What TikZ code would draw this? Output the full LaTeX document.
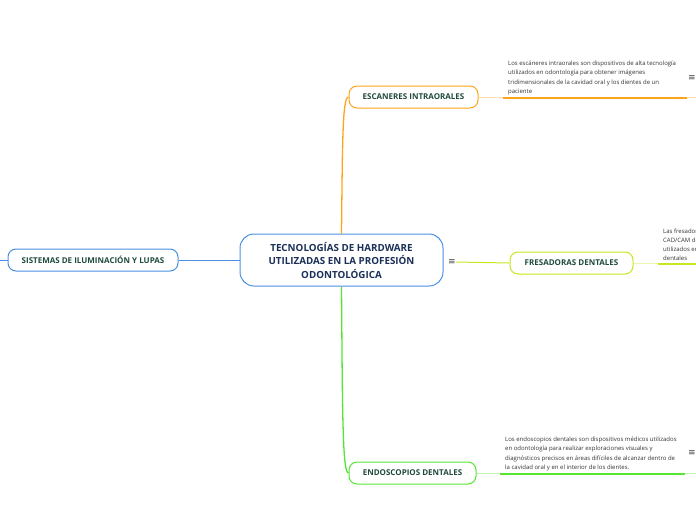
\documentclass[tikz,border=0pt]{standalone}
\usepackage{fontspec}
\setmainfont{Open Sans}
\newfontfamily\iconfont{DejaVu Sans}
\usetikzlibrary{positioning}
\definecolor{mapblue}{HTML}{4A90E2}
\definecolor{maporange}{HTML}{FFA31A}
\definecolor{maplime}{HTML}{C8E61E}
\definecolor{mapgreen}{HTML}{55E633}
\definecolor{labelgreen}{HTML}{1E4B3A}
\definecolor{centralblue}{HTML}{1B3058}
\definecolor{notegray}{HTML}{333333}

\begin{document}
\begin{tikzpicture}[x=1pt,y=-1pt,
  topic/.style={draw,fill=white,rounded corners=8pt,line width=1pt,minimum height=22pt,inner sep=0pt,font=\bfseries\fontsize{8}{9}\selectfont,text=labelgreen},
  central/.style={draw=mapblue,fill=white,rounded corners=14pt,line width=1pt,minimum width=203pt,minimum height=52pt,inner sep=0pt,align=center,font=\bfseries\fontsize{9.8}{13.5}\selectfont,text=centralblue},
  note/.style={anchor=south west,align=left,inner xsep=5pt,inner ysep=3pt,font=\fontsize{6}{9.2}\selectfont,text=notegray},
  icon/.style={inner sep=0pt,font=\iconfont\fontsize{9}{9}\selectfont,text=black!75},
  branch/.style={line width=1pt}]
\useasboundingbox (0,0) rectangle (696,520);
% Central topic
\node[central] (c) at (341.5,260) {TECNOLOGÍAS DE HARDWARE\\UTILIZADAS EN LA PROFESIÓN\\ODONTOLÓGICA};
\node[icon] (cicon) at (452,262) {≡};
% Main topics
\node[topic,draw=mapblue,minimum width=170pt] (sis) at (93,260) {SISTEMAS DE ILUMINACIÓN Y LUPAS};
\node[topic,draw=maporange,minimum width=129pt] (esc) at (413.5,97) {ESCANERES INTRAORALES};
\node[topic,draw=maplime,minimum width=123pt] (fre) at (571.5,263) {FRESADORAS DENTALES};
\node[topic,draw=mapgreen,minimum width=127pt] (endo) at (412.5,473) {ENDOSCOPIOS DENTALES};
% Notes
\node[note] (escnote) at (503,98) {Los escáneres intraorales son dispositivos de alta tecnología\\utilizados en odontología para obtener imágenes\\tridimensionales de la cavidad oral y los dientes de un\\paciente};
\node[note] (frenote) at (658,264) {Las fresadoras\\CAD/CAM dentales\\utilizados en\\dentales};
\node[note] (endonote) at (500,474) {Los endoscopios dentales son dispositivos médicos utilizados\\en odontología para realizar exploraciones visuales y\\diagnósticos precisos en áreas difíciles de alcanzar dentro de\\la cavidad oral y en el interior de los dientes.};
\node[icon] (escicon) at (692,78) {≡};
\node[icon] (endoicon) at (692,453) {≡};
\coordinate (leftend) at (0,260);
\coordinate (escend) at (696,97);
\coordinate (freend) at (696,263);
\coordinate (endoend) at (696,473);
% Connectors
\draw[branch,mapblue] (leftend) -- (sis.west);
\draw[branch,mapblue] (sis.east) -- (c.west);
\draw[branch,line width=1.3pt,maporange] (c.north) .. controls +(1,-95) and +(-6,0) .. (esc.west);
\draw[branch,line width=1.3pt,mapgreen] (c.south) .. controls +(1,130) and +(-6,0) .. (endo.west);
\draw[branch,maplime] (cicon.east) -- (fre.west);
% Note lines
\draw[branch,maporange!35] (esc.east) -- (escend);
\draw[line width=2pt,maporange] (escnote.south west) -- ++(184,0);
\draw[branch,maplime!35] (fre.east) -- (freend);
\draw[line width=2pt,maplime] (frenote.south west) -- (frenote.south west -| freend);
\draw[branch,mapgreen!35] (endo.east) -- (endoend);
\draw[line width=2pt,mapgreen] (endonote.south west) -- ++(185,0);
\end{tikzpicture}
\end{document}
